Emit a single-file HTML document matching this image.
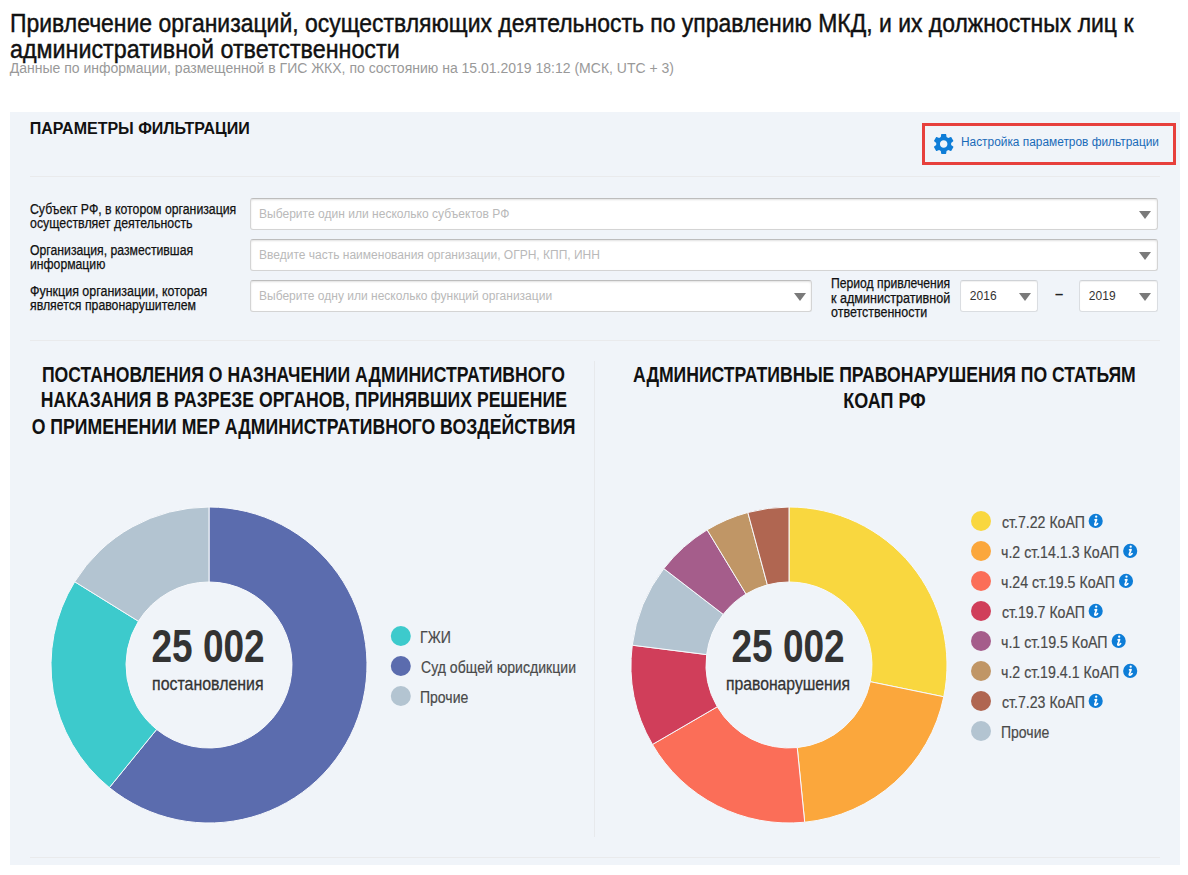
<!DOCTYPE html>
<html lang="ru">
<head>
<meta charset="utf-8">
<title>Привлечение организаций к административной ответственности</title>
<style>
html,body{margin:0;padding:0;}
body{width:1188px;height:875px;position:relative;overflow:hidden;background:#fff;font-family:"Liberation Sans",sans-serif;}
h1,h2,h3,p,ul,li,label,strong,a{margin:0;padding:0;font-size:inherit;font-weight:400;list-style:none;text-decoration:none;}
.t{position:absolute;white-space:nowrap;display:block;margin:0;}
.panel{position:absolute;left:10px;top:112px;width:1170px;height:753px;background:#f0f4f9;}
.hr{position:absolute;height:1px;background:#e9eaec;left:30px;width:1130px;}
.vr{position:absolute;width:1px;background:#e7e9ec;left:594px;top:361px;height:476px;}
.inp{position:absolute;height:30px;background:#fff;border:1px solid #d4d4d4;border-top-color:#bdbdbd;border-radius:3px;box-shadow:inset 0 1px 2px rgba(0,0,0,.12);}
.arr{position:absolute;width:0;height:0;border-left:6px solid transparent;border-right:6px solid transparent;border-top:8px solid #7a7a7a;}
.sel{border-color:#dadde1;border-top-color:#cfd2d6;box-shadow:inset 0 1px 1px rgba(0,0,0,.06);}
.btn{position:absolute;left:922px;top:123px;width:248px;height:36px;border:3px solid #e7403c;}
svg{position:absolute;left:0;top:0;pointer-events:none;}
</style>
</head>
<body>
<header>
<h1>
<span class="t" style="left:9.59px;top:9.99px;font-size:26px;line-height:26px;color:#111;-webkit-text-stroke:0.45px;transform:scaleX(0.8827);transform-origin:0 0;">Привлечение организаций, осуществляющих деятельность по управлению МКД, и их должностных лиц к</span>
<span class="t" style="left:10.19px;top:35.99px;font-size:26px;line-height:26px;color:#111;-webkit-text-stroke:0.45px;transform:scaleX(0.8958);transform-origin:0 0;">административной ответственности</span>
</h1>
<p class="t" style="left:9.66px;top:60.76px;font-size:14px;line-height:14px;color:#999;">Данные по информации, размещенной в ГИС ЖКХ, по состоянию на 15.01.2019 18:12 (МСК, UTC + 3)</p>
</header>
<main>
<div class="panel"></div>
<section class="filters">
<h2 class="t" style="left:29.75px;top:121.46px;font-size:16px;line-height:16px;color:#111;font-weight:700;">ПАРАМЕТРЫ ФИЛЬТРАЦИИ</h2>
<div class="btn"></div>
<svg width="1188" height="875" viewBox="0 0 1188 875"><g transform="translate(931.2 131.5) scale(1.04)" fill="#0e7dd7"><path d="M19.14 12.94c.04-.3.06-.61.06-.94 0-.32-.02-.64-.07-.94l2.03-1.58c.18-.14.23-.41.12-.61l-1.92-3.32c-.12-.22-.37-.29-.59-.22l-2.39.96c-.5-.38-1.03-.7-1.62-.94l-.36-2.54c-.04-.24-.24-.41-.48-.41h-3.84c-.24 0-.43.17-.47.41l-.36 2.54c-.59.24-1.13.57-1.62.94l-2.39-.96c-.22-.08-.47 0-.59.22L2.74 8.87c-.12.21-.08.47.12.61l2.03 1.58c-.05.3-.09.63-.09.94s.02.64.07.94l-2.03 1.58c-.18.14-.23.41-.12.61l1.92 3.32c.12.22.37.29.59.22l2.39-.96c.5.38 1.03.7 1.62.94l.36 2.54c.05.24.24.41.48.41h3.84c.24 0 .44-.17.47-.41l.36-2.54c.59-.24 1.13-.56 1.62-.94l2.39.96c.22.08.47 0 .59-.22l1.92-3.32c.12-.22.07-.47-.12-.61l-2.01-1.58zM12 15.6c-1.98 0-3.6-1.62-3.6-3.6s1.62-3.6 3.6-3.6 3.6 1.62 3.6 3.6-1.62 3.6-3.6 3.6z"/></g></svg>
<a class="t" href="#settings" style="left:960.50px;top:136.42px;font-size:12.5px;line-height:12.5px;color:#186ab8;transform:scaleX(0.9503);transform-origin:0 0;">Настройка параметров фильтрации</a>
<div class="hr" style="top:176px"></div>
<div class="row">
<label><span class="t" style="left:29.82px;top:201.65px;font-size:14px;line-height:14px;color:#111;-webkit-text-stroke:0.25px;transform:scaleX(0.8773);transform-origin:0 0;">Субъект РФ, в котором организация</span>
<span class="t" style="left:29.99px;top:215.58px;font-size:14px;line-height:14px;color:#111;-webkit-text-stroke:0.25px;transform:scaleX(0.8850);transform-origin:0 0;">осуществляет деятельность</span></label>
<div class="inp" style="left:250px;top:198px;width:906px"></div>
<span class="t" style="left:259.12px;top:208.05px;font-size:12.5px;line-height:12.5px;color:#b9b9b9;transform:scaleX(0.9640);transform-origin:0 0;">Выберите один или несколько субъектов РФ</span>
<div class="arr" style="left:1139px;top:210.5px"></div>
</div>
<div class="row">
<label><span class="t" style="left:29.92px;top:242.64px;font-size:14px;line-height:14px;color:#111;-webkit-text-stroke:0.25px;transform:scaleX(0.8733);transform-origin:0 0;">Организация, разместившая</span>
<span class="t" style="left:29.50px;top:256.66px;font-size:14px;line-height:14px;color:#111;-webkit-text-stroke:0.25px;transform:scaleX(0.8719);transform-origin:0 0;">информацию</span></label>
<div class="inp" style="left:250px;top:239px;width:906px"></div>
<span class="t" style="left:259.12px;top:249.05px;font-size:12.5px;line-height:12.5px;color:#b9b9b9;transform:scaleX(0.9608);transform-origin:0 0;">Введите часть наименования организации, ОГРН, КПП, ИНН</span>
<div class="arr" style="left:1139px;top:251.5px"></div>
</div>
<div class="row">
<label><span class="t" style="left:29.59px;top:283.60px;font-size:14px;line-height:14px;color:#111;-webkit-text-stroke:0.25px;transform:scaleX(0.8904);transform-origin:0 0;">Функция организации, которая</span>
<span class="t" style="left:30.31px;top:297.64px;font-size:14px;line-height:14px;color:#111;-webkit-text-stroke:0.25px;transform:scaleX(0.8783);transform-origin:0 0;">является правонарушителем</span></label>
<div class="inp" style="left:250px;top:280px;width:560px"></div>
<span class="t" style="left:259.12px;top:290.05px;font-size:12.5px;line-height:12.5px;color:#b9b9b9;transform:scaleX(0.9610);transform-origin:0 0;">Выберите одну или несколько функций организации</span>
<div class="arr" style="left:794px;top:292.5px"></div>
<label><span class="t" style="left:830.50px;top:275.66px;font-size:14px;line-height:14px;color:#111;-webkit-text-stroke:0.25px;transform:scaleX(0.8698);transform-origin:0 0;">Период привлечения</span>
<span class="t" style="left:830.50px;top:290.56px;font-size:14px;line-height:14px;color:#111;-webkit-text-stroke:0.25px;transform:scaleX(0.8986);transform-origin:0 0;">к административной</span>
<span class="t" style="left:830.98px;top:304.57px;font-size:14px;line-height:14px;color:#111;-webkit-text-stroke:0.25px;transform:scaleX(0.8930);transform-origin:0 0;">ответственности</span></label>
<div class="inp sel" style="left:960px;top:280px;width:76px"></div>
<span class="t" style="left:969.86px;top:290.28px;font-size:12px;line-height:12px;color:#333;">2016</span>
<div class="arr" style="left:1019px;top:292.5px"></div>
<span class="t" style="left:1054.85px;top:287.15px;font-size:14px;line-height:14px;color:#222;font-weight:700;transform:scaleX(1.0529);transform-origin:0 0;">–</span>
<div class="inp sel" style="left:1079px;top:280px;width:77px"></div>
<span class="t" style="left:1088.86px;top:290.28px;font-size:12px;line-height:12px;color:#333;">2019</span>
<div class="arr" style="left:1139px;top:292.5px"></div>
</div>
<div class="hr" style="top:340px"></div>
</section>
<section class="chart chart-left">
<h3>
<span class="t" style="left:-22.83px;top:364.18px;font-size:22px;line-height:22px;color:#111;font-weight:700;transform:scaleX(0.8012);transform-origin:50% 0;">ПОСТАНОВЛЕНИЯ О НАЗНАЧЕНИИ АДМИНИСТРАТИВНОГО</span>
<span class="t" style="left:-25.38px;top:389.38px;font-size:22px;line-height:22px;color:#111;font-weight:700;transform:scaleX(0.7999);transform-origin:50% 0;">НАКАЗАНИЯ В РАЗРЕЗЕ ОРГАНОВ, ПРИНЯВШИХ РЕШЕНИЕ</span>
<span class="t" style="left:-34.65px;top:415.58px;font-size:22px;line-height:22px;color:#111;font-weight:700;transform:scaleX(0.8030);transform-origin:50% 0;">О ПРИМЕНЕНИИ МЕР АДМИНИСТРАТИВНОГО ВОЗДЕЙСТВИЯ</span>
</h3>
<svg width="1188" height="875" viewBox="0 0 1188 875"><g><path d="M209.00 507.00A158 158 0 1 1 109.35 787.62L156.65 729.41A83 83 0 1 0 209.00 582.00Z" fill="#5b6cae" stroke="#f7f9fc" stroke-width="1" stroke-linejoin="round"/><path d="M109.35 787.62A158 158 0 0 1 74.72 581.74L138.46 621.26A83 83 0 0 0 156.65 729.41Z" fill="#3dcacc" stroke="#f7f9fc" stroke-width="1" stroke-linejoin="round"/><path d="M74.72 581.74A158 158 0 0 1 209.00 507.00L209.00 582.00A83 83 0 0 0 138.46 621.26Z" fill="#b3c4d1" stroke="#f7f9fc" stroke-width="1" stroke-linejoin="round"/></g><g><circle cx="400.8" cy="636" r="10" fill="#3dcacc"/><circle cx="400.8" cy="666" r="10" fill="#5b6cae"/><circle cx="400.8" cy="696" r="10" fill="#b3c4d1"/></g></svg>
<strong class="t" style="left:137.94px;top:624.23px;font-size:45.8px;line-height:45.8px;color:#333;font-weight:700;transform:scaleX(0.8083);transform-origin:50% 0;">25 002</strong>
<span class="t" style="left:142.71px;top:674.54px;font-size:18.5px;line-height:18.5px;color:#333;-webkit-text-stroke:0.3px;transform:scaleX(0.8596);transform-origin:50% 0;">постановления</span>
<ul>
<li class="t" style="left:419.91px;top:629.21px;font-size:17px;line-height:17px;color:#4a4a4a;-webkit-text-stroke:0.2px;transform:scaleX(0.8293);transform-origin:0 0;">ГЖИ</li>
<li class="t" style="left:420.50px;top:659.15px;font-size:17px;line-height:17px;color:#4a4a4a;-webkit-text-stroke:0.2px;transform:scaleX(0.8276);transform-origin:0 0;">Суд общей юрисдикции</li>
<li class="t" style="left:419.94px;top:689.21px;font-size:17px;line-height:17px;color:#4a4a4a;-webkit-text-stroke:0.2px;transform:scaleX(0.8243);transform-origin:0 0;">Прочие</li>
</ul>
</section>
<div class="vr"></div>
<section class="chart chart-right">
<h3>
<span class="t" style="left:570.22px;top:364.18px;font-size:22px;line-height:22px;color:#111;font-weight:700;transform:scaleX(0.7994);transform-origin:50% 0;">АДМИНИСТРАТИВНЫЕ ПРАВОНАРУШЕНИЯ ПО СТАТЬЯМ</span>
<span class="t" style="left:833.92px;top:389.78px;font-size:22px;line-height:22px;color:#111;font-weight:700;transform:scaleX(0.8177);transform-origin:50% 0;">КОАП РФ</span>
</h3>
<svg width="1188" height="875" viewBox="0 0 1188 875"><g><path d="M789.00 507.00A158 158 0 0 1 943.77 696.77L870.30 681.69A83 83 0 0 0 789.00 582.00Z" fill="#f9d73f" stroke="#f7f9fc" stroke-width="1" stroke-linejoin="round"/><path d="M943.77 696.77A158 158 0 0 1 804.69 822.22L797.24 747.59A83 83 0 0 0 870.30 681.69Z" fill="#fba73c" stroke="#f7f9fc" stroke-width="1" stroke-linejoin="round"/><path d="M804.69 822.22A158 158 0 0 1 652.44 744.48L717.27 706.75A83 83 0 0 0 797.24 747.59Z" fill="#fb6e58" stroke="#f7f9fc" stroke-width="1" stroke-linejoin="round"/><path d="M652.44 744.48A158 158 0 0 1 632.25 645.20L706.65 654.60A83 83 0 0 0 717.27 706.75Z" fill="#d03e5a" stroke="#f7f9fc" stroke-width="1" stroke-linejoin="round"/><path d="M632.25 645.20A158 158 0 0 1 663.82 568.60L723.24 614.36A83 83 0 0 0 706.65 654.60Z" fill="#b3c4d1" stroke="#f7f9fc" stroke-width="1" stroke-linejoin="round"/><path d="M663.82 568.60A158 158 0 0 1 707.15 529.85L746.00 594.00A83 83 0 0 0 723.24 614.36Z" fill="#a55d8b" stroke="#f7f9fc" stroke-width="1" stroke-linejoin="round"/><path d="M707.15 529.85A158 158 0 0 1 747.84 512.46L767.38 584.87A83 83 0 0 0 746.00 594.00Z" fill="#c09666" stroke="#f7f9fc" stroke-width="1" stroke-linejoin="round"/><path d="M747.84 512.46A158 158 0 0 1 789.00 507.00L789.00 582.00A83 83 0 0 0 767.38 584.87Z" fill="#b06651" stroke="#f7f9fc" stroke-width="1" stroke-linejoin="round"/></g><g><circle cx="981" cy="521" r="10" fill="#f9d73f"/><circle cx="981" cy="551" r="10" fill="#fba73c"/><circle cx="981" cy="581" r="10" fill="#fb6e58"/><circle cx="981" cy="611" r="10" fill="#d03e5a"/><circle cx="981" cy="641" r="10" fill="#a55d8b"/><circle cx="981" cy="671" r="10" fill="#c09666"/><circle cx="981" cy="701" r="10" fill="#b06651"/><circle cx="981" cy="731" r="10" fill="#b3c4d1"/></g><g><g transform="translate(1095.7 520.9)"><circle r="7.05" fill="#0e7dd7"/><circle cx="0.5" cy="-4.2" r="1.15" fill="#fff"/><path d="M-0.6 -0.95L0.85 -1.2L-0.9 3.4Q-1 4.5 0.3 4.1Q1.2 3.7 1.9 2.7" fill="none" stroke="#fff" stroke-width="1.7" stroke-linecap="round" stroke-linejoin="round"/></g><g transform="translate(1130.2 550.9)"><circle r="7.05" fill="#0e7dd7"/><circle cx="0.5" cy="-4.2" r="1.15" fill="#fff"/><path d="M-0.6 -0.95L0.85 -1.2L-0.9 3.4Q-1 4.5 0.3 4.1Q1.2 3.7 1.9 2.7" fill="none" stroke="#fff" stroke-width="1.7" stroke-linecap="round" stroke-linejoin="round"/></g><g transform="translate(1126.0 580.9)"><circle r="7.05" fill="#0e7dd7"/><circle cx="0.5" cy="-4.2" r="1.15" fill="#fff"/><path d="M-0.6 -0.95L0.85 -1.2L-0.9 3.4Q-1 4.5 0.3 4.1Q1.2 3.7 1.9 2.7" fill="none" stroke="#fff" stroke-width="1.7" stroke-linecap="round" stroke-linejoin="round"/></g><g transform="translate(1095.7 610.9)"><circle r="7.05" fill="#0e7dd7"/><circle cx="0.5" cy="-4.2" r="1.15" fill="#fff"/><path d="M-0.6 -0.95L0.85 -1.2L-0.9 3.4Q-1 4.5 0.3 4.1Q1.2 3.7 1.9 2.7" fill="none" stroke="#fff" stroke-width="1.7" stroke-linecap="round" stroke-linejoin="round"/></g><g transform="translate(1118.7 640.9)"><circle r="7.05" fill="#0e7dd7"/><circle cx="0.5" cy="-4.2" r="1.15" fill="#fff"/><path d="M-0.6 -0.95L0.85 -1.2L-0.9 3.4Q-1 4.5 0.3 4.1Q1.2 3.7 1.9 2.7" fill="none" stroke="#fff" stroke-width="1.7" stroke-linecap="round" stroke-linejoin="round"/></g><g transform="translate(1130.2 670.9)"><circle r="7.05" fill="#0e7dd7"/><circle cx="0.5" cy="-4.2" r="1.15" fill="#fff"/><path d="M-0.6 -0.95L0.85 -1.2L-0.9 3.4Q-1 4.5 0.3 4.1Q1.2 3.7 1.9 2.7" fill="none" stroke="#fff" stroke-width="1.7" stroke-linecap="round" stroke-linejoin="round"/></g><g transform="translate(1095.7 700.9)"><circle r="7.05" fill="#0e7dd7"/><circle cx="0.5" cy="-4.2" r="1.15" fill="#fff"/><path d="M-0.6 -0.95L0.85 -1.2L-0.9 3.4Q-1 4.5 0.3 4.1Q1.2 3.7 1.9 2.7" fill="none" stroke="#fff" stroke-width="1.7" stroke-linecap="round" stroke-linejoin="round"/></g></g></svg>
<strong class="t" style="left:717.94px;top:624.23px;font-size:45.8px;line-height:45.8px;color:#333;font-weight:700;transform:scaleX(0.8083);transform-origin:50% 0;">25 002</strong>
<span class="t" style="left:715.04px;top:674.54px;font-size:18.5px;line-height:18.5px;color:#333;-webkit-text-stroke:0.3px;transform:scaleX(0.8498);transform-origin:50% 0;">правонарушения</span>
<ul>
<li class="t" style="left:1001.66px;top:514.13px;font-size:17px;line-height:17px;color:#4a4a4a;-webkit-text-stroke:0.2px;transform:scaleX(0.8321);transform-origin:0 0;">ст.7.22 КоАП</li>
<li class="t" style="left:1000.87px;top:544.15px;font-size:17px;line-height:17px;color:#4a4a4a;-webkit-text-stroke:0.2px;transform:scaleX(0.8343);transform-origin:0 0;">ч.2 ст.14.1.3 КоАП</li>
<li class="t" style="left:1000.87px;top:574.14px;font-size:17px;line-height:17px;color:#4a4a4a;-webkit-text-stroke:0.2px;transform:scaleX(0.8330);transform-origin:0 0;">ч.24 ст.19.5 КоАП</li>
<li class="t" style="left:1001.66px;top:604.13px;font-size:17px;line-height:17px;color:#4a4a4a;-webkit-text-stroke:0.2px;transform:scaleX(0.8321);transform-origin:0 0;">ст.19.7 КоАП</li>
<li class="t" style="left:1000.87px;top:634.13px;font-size:17px;line-height:17px;color:#4a4a4a;-webkit-text-stroke:0.2px;transform:scaleX(0.8365);transform-origin:0 0;">ч.1 ст.19.5 КоАП</li>
<li class="t" style="left:1000.87px;top:664.15px;font-size:17px;line-height:17px;color:#4a4a4a;-webkit-text-stroke:0.2px;transform:scaleX(0.8343);transform-origin:0 0;">ч.2 ст.19.4.1 КоАП</li>
<li class="t" style="left:1001.66px;top:694.13px;font-size:17px;line-height:17px;color:#4a4a4a;-webkit-text-stroke:0.2px;transform:scaleX(0.8321);transform-origin:0 0;">ст.7.23 КоАП</li>
<li class="t" style="left:1000.74px;top:724.21px;font-size:17px;line-height:17px;color:#4a4a4a;-webkit-text-stroke:0.2px;transform:scaleX(0.8243);transform-origin:0 0;">Прочие</li>
</ul>
</section>
<div class="hr" style="top:857px"></div>
</main>
</body>
</html>
